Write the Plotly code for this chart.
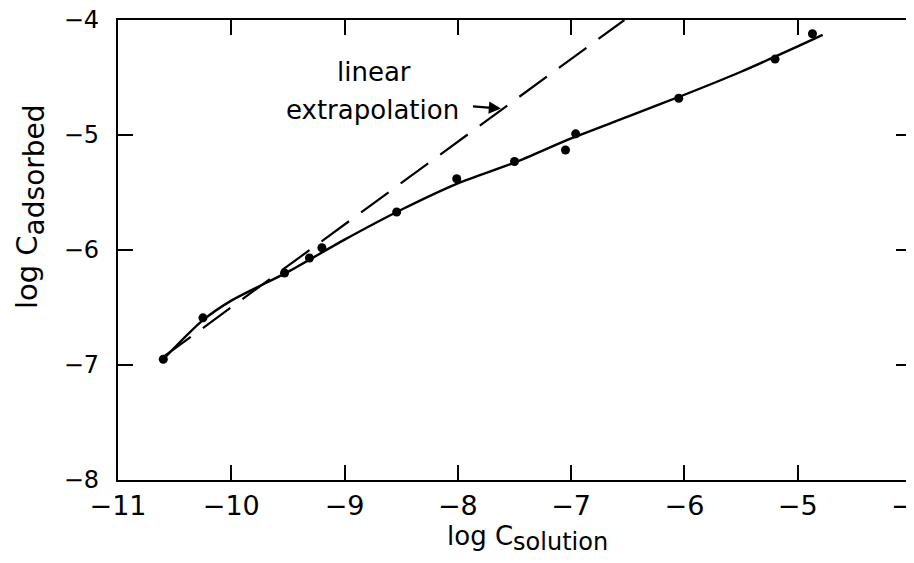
import plotly.graph_objects as go

# measured data points
pts_x = [-10.60, -10.25, -9.53, -9.31, -9.20, -8.54, -8.01, -7.50, -7.05, -6.96, -6.05, -5.20, -4.87]
pts_y = [-6.95, -6.59, -6.20, -6.07, -5.98, -5.67, -5.38, -5.23, -5.13, -4.99, -4.68, -4.34, -4.12]

# smooth fitted curve (solid)
curve_x = [-10.60, -10.25, -10.0, -9.5, -9.0, -8.5, -8.0, -7.5, -7.0, -6.5, -6.0, -5.5, -5.0, -4.78]
curve_y = [-6.95, -6.61, -6.44, -6.19, -5.91, -5.65, -5.42, -5.24, -5.03, -4.84, -4.65, -4.45, -4.23, -4.13]

# linear extrapolation (dashed)
lin_x = [-10.60, -6.53]
lin_y = [-6.93, -4.0]

x_ticks = [-11, -10, -9, -8, -7, -6, -5, -4]
y_ticks = [-8, -7, -6, -5, -4]

FONT = "DejaVu Sans"
ZW = "\u200b"

fig = go.Figure()
fig.add_trace(go.Scatter(x=lin_x, y=lin_y, mode="lines",
                         line=dict(color="black", width=2.2, dash="34px,15px"),
                         hoverinfo="skip"))
fig.add_trace(go.Scatter(x=curve_x, y=curve_y, mode="lines",
                         line=dict(color="black", width=2.4, shape="spline", smoothing=0.8),
                         hoverinfo="skip"))
fig.add_trace(go.Scatter(x=pts_x, y=pts_y, mode="markers",
                         marker=dict(color="black", size=9)))

fig.add_annotation(x=-8.74, y=-4.45, text="linear", showarrow=False,
                   font=dict(size=26, color="black", family=FONT),
                   xref="x", yref="y")
fig.add_annotation(x=-8.75, y=-4.78, text="extrapolation", showarrow=False,
                   font=dict(size=26, color="black", family=FONT),
                   xref="x", yref="y")
fig.add_annotation(x=-7.62, y=-4.77, ax=-7.88, ay=-4.75, xref="x", yref="y",
                   axref="x", ayref="y", text="", showarrow=True,
                   arrowhead=2, arrowsize=1.1, arrowwidth=2.2, arrowcolor="black")

# axis titles (positioned as in the reference)
fig.add_annotation(xref="paper", yref="paper", x=0.517, y=-0.127,
                   xanchor="center", yanchor="middle", showarrow=False,
                   text=f"log C<sub>{ZW}<span style='font-size:24px'>solution</span></sub>",
                   font=dict(size=26, color="black", family=FONT))
fig.add_annotation(xref="paper", yref="paper", x=-0.11, y=0.595,
                   xanchor="center", yanchor="middle", showarrow=False, textangle=-90,
                   text=f"log C<sub>{ZW}<span style='font-size:28px'>adsorbed</span></sub>",
                   font=dict(size=29, color="black", family=FONT))

axis_common = dict(showline=True, linecolor="black", linewidth=2.2, mirror="ticks",
                   ticks="inside", ticklen=15, tickwidth=2, tickcolor="black",
                   showgrid=False, zeroline=False, automargin=False,
                   ticklabeloverflow="allow")

# page body has an 8px default margin; size/margins compensate for it
fig.update_layout(
    width=906, height=555,
    margin=dict(l=110, r=3, t=12, b=83),
    plot_bgcolor="white", paper_bgcolor="white",
    showlegend=False,
    xaxis=dict(range=[-11, -4], tickvals=x_ticks,
               ticktext=[f"\u2212{abs(v)}" for v in x_ticks],
               tickfont=dict(size=27, color="black", family=FONT),
               ticklabelstandoff=0,
               **axis_common),
    yaxis=dict(range=[-8, -4], tickvals=y_ticks,
               ticktext=[f"\u2212{abs(v)}" for v in y_ticks],
               tickfont=dict(size=24, color="black", family=FONT),
               ticklabelstandoff=12,
               **axis_common),
)

fig.write_html("out.html")
